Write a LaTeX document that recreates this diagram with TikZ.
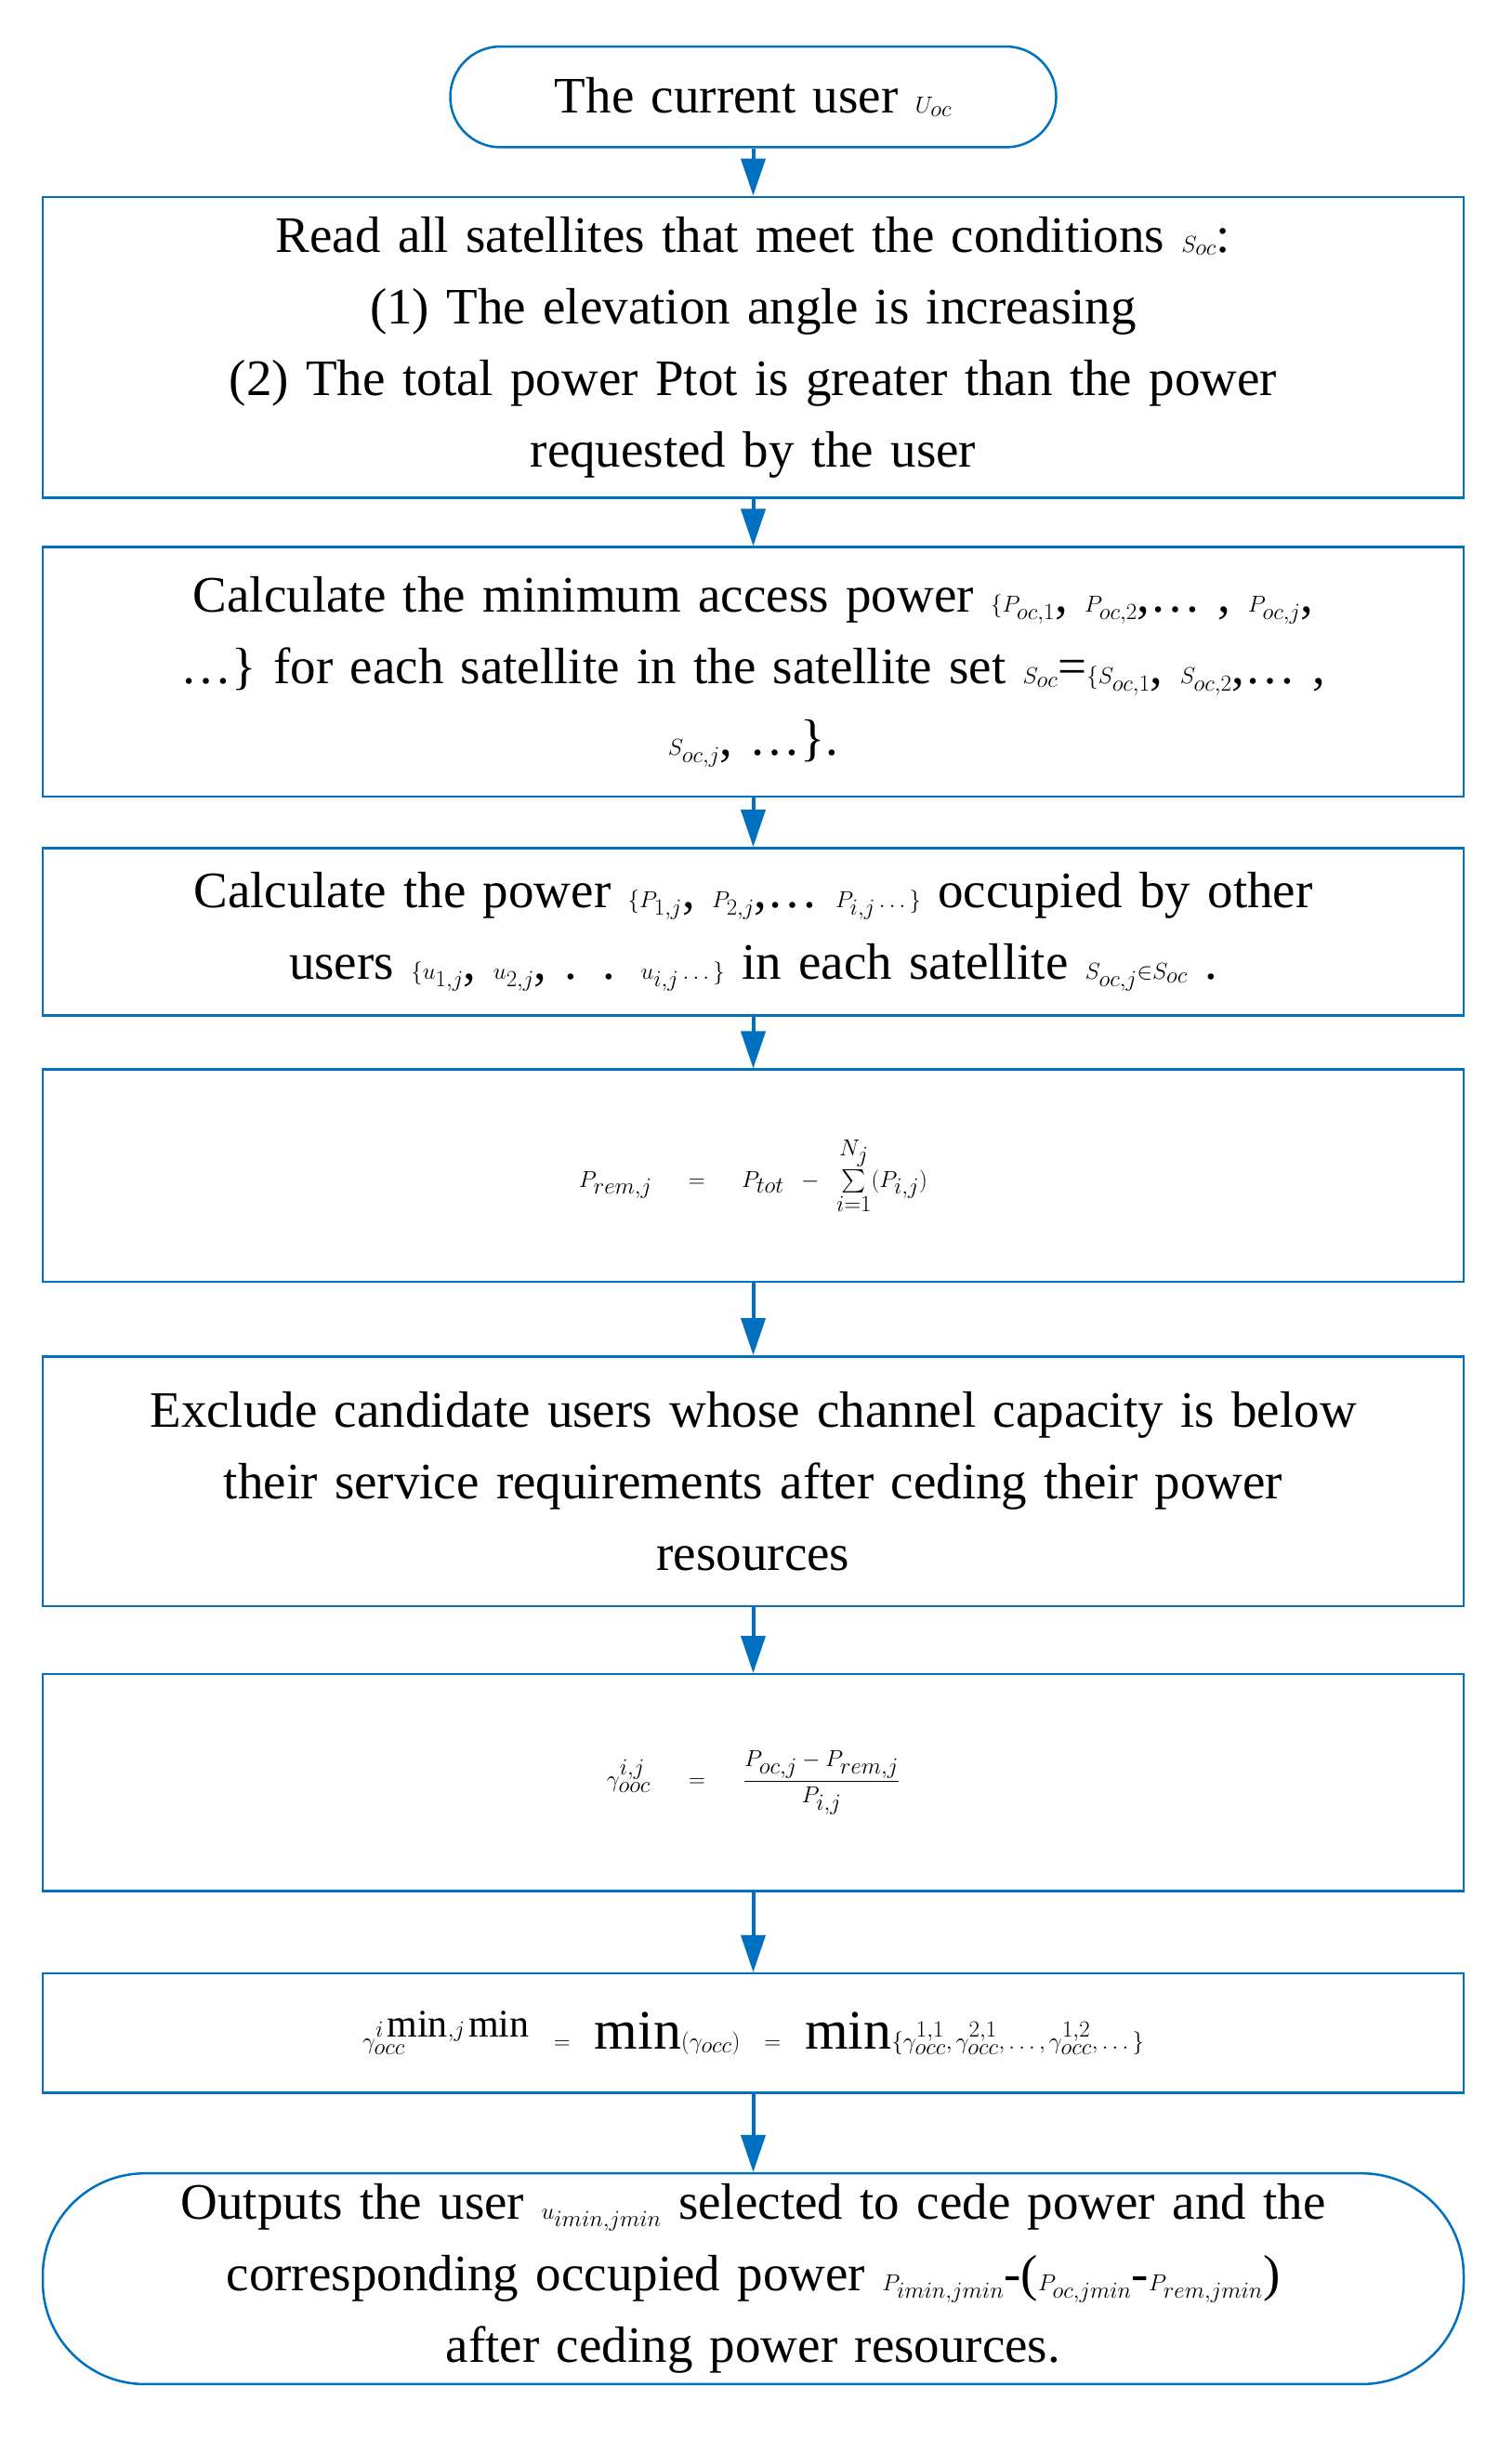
\documentclass[tikz,border=0pt]{standalone}
\usepackage{amsmath}
\usepackage{fontspec}
\setmainfont{Liberation Serif}
\usetikzlibrary{arrows.meta}
\definecolor{lb}{RGB}{0,112,192}
\begin{document}
\begin{tikzpicture}[x=1.6677pt,y=-1.6677pt,
 box/.style={draw=lb,line width=2.5pt,rectangle,minimum width=1529pt,text width=1500pt,align=center,inner sep=0pt,font=\fontsize{55}{77}\selectfont},
 arr/.style={draw=lb,line width=4pt,-{Triangle[width=26pt,length=40pt]}}]
\useasboundingbox (0,0) rectangle (975,1573.4);
\node[box,minimum width=652pt,text width=620pt,minimum height=108.4pt,rounded corners=54pt] (s) at (486,62.5) {The current user $U_{oc}$};
\node[box,minimum height=323.5pt] (b1) at (486,224) {Read all satellites that meet the conditions $S_{oc}$:\\(1) The elevation angle is increasing\\(2) The total power Ptot is greater than the power\\requested by the user};
\node[box,minimum height=268.5pt] (b2) at (486,433.5) {Calculate the minimum access power $\{P_{oc,1}$, $P_{oc,2}$,\dots\ , $P_{oc,j}$,\\\dots\} for each satellite in the satellite set $S_{oc}$=$\{S_{oc,1}$, $S_{oc,2}$,\dots\ ,\\$S_{oc,j}$, \dots\}.};
\node[box,minimum height=180pt] (b3) at (486,601) {Calculate the power $\{P_{1,j}$, $P_{2,j}$,\dots\ $P_{i,j}\dots\}$ occupied by other\\users $\{u_{1,j}$, $u_{2,j}$, . . $u_{i,j}\dots\}$ in each satellite $S_{oc,j}{\in}S_{oc}$ .};
\node[box,minimum height=228.5pt,font=\fontsize{60}{77}\selectfont] (b4) at (486,758.5) {$P_{rem,j}=P_{tot}-\sum\limits_{i=1}^{N_j}(P_{i,j})$};
\node[box,minimum height=268.5pt] (b5) at (486,955.5) {Exclude candidate users whose channel capacity is below\\their service requirements after ceding their power\\resources};
\node[box,minimum height=233.5pt,font=\fontsize{60}{77}\selectfont] (b6) at (486,1150) {$\gamma^{i,j}_{ooc}=\dfrac{P_{oc,j}-P_{rem,j}}{P_{i,j}}$};
\node[box,minimum height=128.4pt,font=\fontsize{60}{77}\selectfont] (b7) at (486,1311.5) {$\gamma_{occ}^{i\min,j\min}=\min(\gamma_{occ})=\min\{\gamma^{1,1}_{occ},\gamma^{2,1}_{occ},\dots,\gamma^{1,2}_{occ},\dots\}$};
\node[box,minimum height=226.8pt,rounded corners=110pt] (e) at (486,1470) {Outputs the user $u_{imin,jmin}$ selected to cede power and the\\corresponding occupied power $P_{imin,jmin}$-($P_{oc,jmin}$-$P_{rem,jmin}$)\\after ceding power resources.};
\draw[arr] (s) -- (b1);
\draw[arr] (b1) -- (b2);
\draw[arr] (b2) -- (b3);
\draw[arr] (b3) -- (b4);
\draw[arr] (b4) -- (b5);
\draw[arr] (b5) -- (b6);
\draw[arr] (b6) -- (b7);
\draw[arr] (b7) -- (e);
\end{tikzpicture}
\end{document}
